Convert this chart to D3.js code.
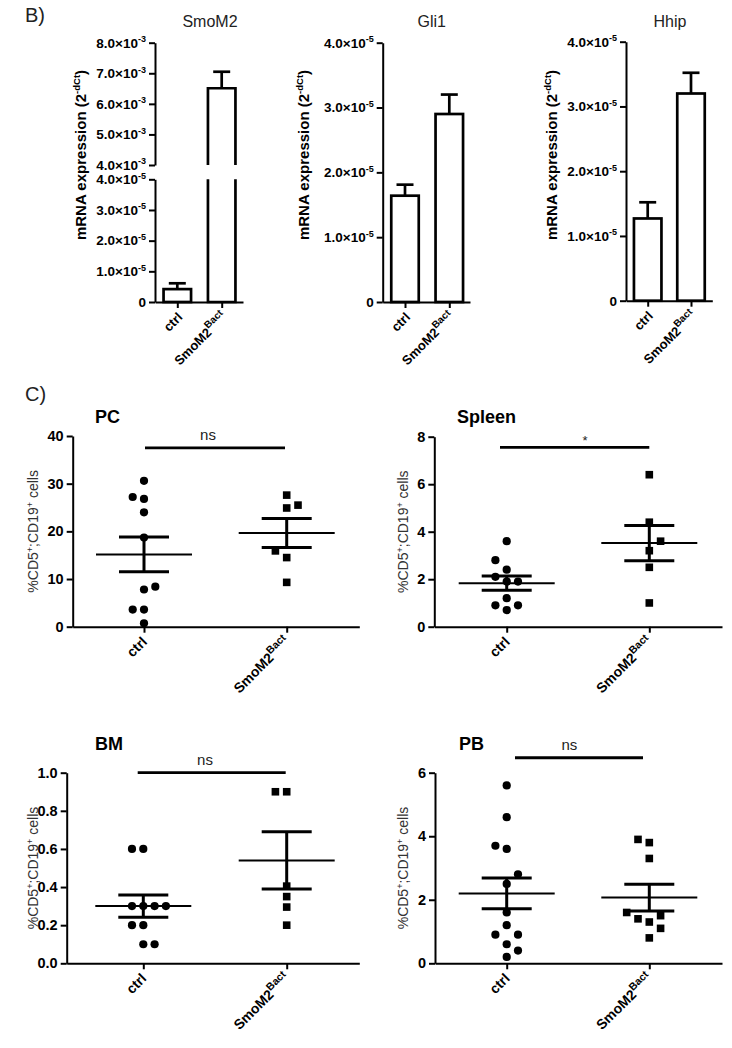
<!DOCTYPE html>
<html><head><meta charset="utf-8">
<script src="https://cdn.jsdelivr.net/npm/d3@7"></script>
<style>body{margin:0;background:#fff} svg{display:block}</style>
</head><body><svg id="c" width="732" height="1048"></svg>
<script>
// ================= DATA =================
const groups = ["ctrl", "SmoM2Bact"];
const genes = ["SmoM2", "Gli1", "Hhip"];
const smoM2Mean = [0.42e-5, 6.51e-3];
const smoM2Err  = [0.19e-5, 0.54e-3];
const gli1Mean  = [1.64e-5, 2.90e-5];
const gli1Err   = [0.17e-5, 0.30e-5];
const hhipMean  = [1.27e-5, 3.20e-5];
const hhipErr   = [0.25e-5, 0.32e-5];
const barTicksLow  = [0, 1e-5, 2e-5, 3e-5, 4e-5];
const barTicksHigh = [4e-3, 5e-3, 6e-3, 7e-3, 8e-3];

const tissues = ["PC", "Spleen", "BM", "PB"];
const pcCtrl     = [0.7, 3.6, 3.6, 7.8, 8.4, 18.7, 24.0, 26.8, 27.2, 30.6];
const pcSmo      = [9.3, 14.5, 15.9, 24.9, 25.5, 27.6];
const spleenCtrl = [0.7, 0.9, 0.9, 1.2, 1.9, 2.1, 1.9, 2.4, 2.8, 3.6];
const spleenSmo  = [1.0, 2.5, 3.2, 3.6, 4.4, 6.4];
const bmCtrl     = [0.1, 0.1, 0.2, 0.2, 0.3, 0.3, 0.3, 0.3, 0.6, 0.6];
const bmSmo      = [0.2, 0.295, 0.35, 0.405, 0.9, 0.9];
const pbCtrl     = [0.2, 0.4, 0.6, 0.9, 0.9, 1.2, 1.6, 3.6, 3.7, 2.5, 2.8, 4.6, 5.6];
const pbSmo      = [3.8, 3.9, 0.8, 1.1, 1.3, 1.4, 1.5, 1.6, 3.3];
const pcMean = [15.15, 19.65],   pcSem = [3.65, 3.05];
const spleenMean = [1.83, 3.52], spleenSem = [0.30, 0.74];
const bmMean = [0.30, 0.54],     bmSem = [0.058, 0.15];
const pbMean = [2.20, 2.07],     pbSem = [0.485, 0.42];
const pcTicks = [0, 10, 20, 30, 40];
const spleenTicks = [0, 2, 4, 6, 8];
const bmTicks = [0, 0.2, 0.4, 0.6, 0.8, 1.0];
const pbTicks = [0, 2, 4, 6];
const sigLabels = ["ns", "*", "ns", "ns"];
const sigLevels = [37.5, 7.55, 1.0, 6.47];

// ================= LAYOUT =================
const FONT = 'Arial, "Liberation Sans", Helvetica, sans-serif';
const svg = d3.select("#c").attr("font-family", FONT);
svg.append("rect").attr("width", 732).attr("height", 1048).attr("fill", "#fff");

function pointScale(domain, x0, x1, c1, c2) {
  const step = c2 - c1;
  const p = ((x1 - x0) / step - 1) / 2;
  const a = (c1 - x0) / ((x1 - x0) - step);
  return d3.scalePoint().domain(domain).range([x0, x1]).padding(p).align(a);
}
function styleAxis(g, fs) {
  g.attr("font-size", fs).attr("font-weight", "bold").attr("font-family", FONT);
  g.selectAll("path,line").attr("stroke", "#000").attr("stroke-width", 2);
  g.selectAll("text").attr("fill", "#000");
}
function sciLabel(sel, d) {
  sel.text(null);
  if (d === 0) { sel.text("0"); return; }
  const e = Math.floor(Math.log10(d) + 1e-9);
  const m = d / Math.pow(10, e);
  sel.append("tspan").text(m.toFixed(1) + "\u00d710");
  sel.append("tspan").attr("dy", -5.5).attr("font-size", 9).text(String(e));
}
function xLabels(g, xs, yAxis, fs, dx, dy, supFs) {
  groups.forEach(gr => {
    const t = g.append("text")
      .attr("transform", `translate(${xs(gr) + dx},${yAxis + dy}) rotate(-45)`)
      .attr("text-anchor", "end").attr("font-size", fs).attr("font-weight", "bold").attr("fill", "#000");
    if (gr === "ctrl") t.text("ctrl");
    else {
      t.append("tspan").text("SmoM2");
      t.append("tspan").attr("dy", -6).attr("font-size", supFs).text("Bact");
    }
  });
}

svg.append("text").attr("x", 25).attr("y", 22).attr("font-size", 20).attr("fill", "#222").text("B)");
svg.append("text").attr("x", 25).attr("y", 401).attr("font-size", 20).attr("fill", "#222").text("C)");

// ---------- Panel B: bar charts ----------
const barLayout = [
  {x0: 155, x1: 243, c1: 177.3, c2: 221.7, yb: 302, yt: 42.7, lowTop: 179.3, highBottom: 165, titleX: 210, labelX: 86, broken: true},
  {x0: 382.7, x1: 470, c1: 405, c2: 449.3, yb: 302, yt: 42.7, titleX: 431.7, labelX: 309},
  {x0: 626, x1: 712.3, c1: 647.7, c2: 691, yb: 300.7, yt: 41.7, titleX: 670, labelX: 556.7}
];
const barMeans = [smoM2Mean, gli1Mean, hhipMean];
const barErrs = [smoM2Err, gli1Err, hhipErr];
const BW = 27.5, BSW = 2.7, CAP = 8.5;

genes.forEach((gene, i) => {
  const L = barLayout[i];
  const g = svg.append("g");
  const xs = pointScale(groups, L.x0, L.x1, L.c1, L.c2);
  let yv, low, high;
  if (L.broken) {
    low = d3.scaleLinear().domain([0, 4e-5]).range([L.yb, L.lowTop]);
    high = d3.scaleLinear().domain([4e-3, 8e-3]).range([L.highBottom, L.yt]);
    yv = v => v <= 4e-5 ? low(v) : high(v);
    [[low, barTicksLow], [high, barTicksHigh]].forEach(([sc, tk]) => {
      const ax = g.append("g").attr("transform", `translate(${L.x0},0)`)
        .call(d3.axisLeft(sc).tickValues(tk).tickSize(6).tickSizeOuter(0).tickPadding(3));
      styleAxis(ax, 13.5);
      ax.selectAll(".tick text").each(function(d) { sciLabel(d3.select(this), d); });
    });
  } else {
    low = d3.scaleLinear().domain([0, 4e-5]).range([L.yb, L.yt]);
    yv = low;
    const ax = g.append("g").attr("transform", `translate(${L.x0},0)`)
      .call(d3.axisLeft(low).tickValues(barTicksLow).tickSize(6).tickSizeOuter(0).tickPadding(3));
    styleAxis(ax, 13.5);
    ax.selectAll(".tick text").each(function(d) { sciLabel(d3.select(this), d); });
  }
  const xa = g.append("g").attr("transform", `translate(0,${L.yb})`)
    .call(d3.axisBottom(xs).tickSize(6).tickSizeOuter(0).tickFormat(() => ""));
  styleAxis(xa, 13);

  const means = barMeans[i], errs = barErrs[i];
  groups.forEach((gr, j) => {
    const cx = xs(gr), v = means[j], e = errs[j];
    const left = cx - BW / 2, right = cx + BW / 2;
    g.append("line").attr("x1", cx).attr("x2", cx).attr("y1", yv(v)).attr("y2", yv(v + e))
      .attr("stroke", "#000").attr("stroke-width", BSW);
    g.append("line").attr("x1", cx - CAP).attr("x2", cx + CAP).attr("y1", yv(v + e)).attr("y2", yv(v + e))
      .attr("stroke", "#000").attr("stroke-width", BSW);
    if (L.broken && v > 4e-5) {
      g.append("path").attr("d", `M${left},${L.lowTop}V${L.yb}H${right}V${L.lowTop}`)
        .attr("fill", "#fff").attr("stroke", "#000").attr("stroke-width", BSW);
      g.append("path").attr("d", `M${left},${L.highBottom}V${yv(v)}H${right}V${L.highBottom}`)
        .attr("fill", "#fff").attr("stroke", "#000").attr("stroke-width", BSW);
    } else {
      g.append("rect").attr("x", left).attr("width", BW).attr("y", yv(v)).attr("height", L.yb - yv(v))
        .attr("fill", "#fff").attr("stroke", "#000").attr("stroke-width", BSW);
    }
  });
  g.append("text").attr("x", L.titleX).attr("y", 27).attr("text-anchor", "middle")
    .attr("font-size", 16).attr("fill", "#222").text(gene);
  const yl = g.append("text").attr("transform", `translate(${L.labelX},155) rotate(-90)`)
    .attr("text-anchor", "middle").attr("font-size", 15).attr("font-weight", "bold").attr("fill", "#000");
  yl.append("tspan").text("mRNA expression (2");
  yl.append("tspan").attr("dy", -6).attr("font-size", 9.5).text("-dCt");
  yl.append("tspan").attr("dy", 6).text(")");
  xLabels(g, xs, L.yb, 13, 6, 16, 10);
});

// ---------- Panel C: dot plots ----------
const scLayout = [
  {x0: 72.7, x1: 359.3, c1: 144, c2: 286.7, y0: 626.7, y1: 436, titleX: 95, titleY: 423, labelX: 38, sx1: 145, sx2: 285, sTextX: 208, start: [-1, -1]},
  {x0: 434.3, x1: 722, c1: 506.7, c2: 649.3, y0: 626.7, y1: 436.7, titleX: 457, titleY: 423, labelX: 408, sx1: 500, sx2: 649.3, sTextX: 585, start: [-1, 1]},
  {x0: 66.7, x1: 359.3, c1: 143.3, c2: 286.7, y0: 963.3, y1: 772.7, titleX: 95, titleY: 750, labelX: 38, sx1: 137.7, sx2: 285.7, sTextX: 205, start: [1, -1]},
  {x0: 435, x1: 722, c1: 506.7, c2: 649.3, y0: 963.3, y1: 772.7, titleX: 459, titleY: 750, labelX: 408, sx1: 515, sx2: 643, sTextX: 569.3, start: [1, -1]}
];
const scValues = [[pcCtrl, pcSmo], [spleenCtrl, spleenSmo], [bmCtrl, bmSmo], [pbCtrl, pbSmo]];
const scMeans = [pcMean, spleenMean, bmMean, pbMean];
const scSems = [pcSem, spleenSem, bmSem, pbSem];
const scTicks = [pcTicks, spleenTicks, bmTicks, pbTicks];
const scFormats = ["d", "d", ".1f", "d"];

function swarm(values, y, start) {
  const placed = [];
  let side = start;
  const D = 10, STEP = 11.3;
  return values.map(v => {
    const py = y(v);
    const cands = [0, side, -side, 2 * side, -2 * side, 3 * side, -3 * side];
    let off = 0;
    for (const c of cands) {
      if (!placed.some(p => Math.hypot((p.off - c) * STEP, p.y - py) < D)) { off = c; break; }
    }
    if (off !== 0) side = off > 0 ? -1 : 1;
    const pt = {v, y: py, off, dx: off * STEP};
    placed.push(pt);
    return pt;
  });
}

tissues.forEach((tis, i) => {
  const L = scLayout[i];
  const g = svg.append("g");
  const xs = pointScale(groups, L.x0, L.x1, L.c1, L.c2);
  const tk = scTicks[i];
  const ys = d3.scaleLinear().domain([0, tk[tk.length - 1]]).range([L.y0, L.y1]);
  const ya = g.append("g").attr("transform", `translate(${L.x0},0)`)
    .call(d3.axisLeft(ys).tickValues(tk).tickSize(6).tickSizeOuter(0).tickPadding(3).tickFormat(d3.format(scFormats[i])));
  styleAxis(ya, 14.5);
  const xa = g.append("g").attr("transform", `translate(0,${L.y0})`)
    .call(d3.axisBottom(xs).tickSize(6).tickSizeOuter(0).tickFormat(() => ""));
  styleAxis(xa, 14);

  groups.forEach((gr, j) => {
    const pts = swarm(scValues[i][j], ys, L.start[j]);
    const cx = xs(gr);
    if (j === 0) {
      g.selectAll(null).data(pts).enter().append("circle")
        .attr("cx", d => cx + d.dx).attr("cy", d => d.y).attr("r", 4.1).attr("fill", "#000");
    } else {
      g.selectAll(null).data(pts).enter().append("rect")
        .attr("x", d => cx + d.dx - 3.8).attr("y", d => d.y - 3.8)
        .attr("width", 7.6).attr("height", 7.6).attr("fill", "#000");
    }
    const m = scMeans[i][j], s = scSems[i][j];
    g.append("line").attr("x1", cx - 48).attr("x2", cx + 48).attr("y1", ys(m)).attr("y2", ys(m))
      .attr("stroke", "#000").attr("stroke-width", 2);
    g.append("line").attr("x1", cx).attr("x2", cx).attr("y1", ys(m - s)).attr("y2", ys(m + s))
      .attr("stroke", "#000").attr("stroke-width", 3);
    [m - s, m + s].forEach(v => g.append("line").attr("x1", cx - 25).attr("x2", cx + 25)
      .attr("y1", ys(v)).attr("y2", ys(v)).attr("stroke", "#000").attr("stroke-width", 3));
  });

  const sy = ys(sigLevels[i]);
  g.append("line").attr("x1", L.sx1).attr("x2", L.sx2).attr("y1", sy).attr("y2", sy)
    .attr("stroke", "#000").attr("stroke-width", 2.8);
  const lab = sigLabels[i];
  g.append("text").attr("x", L.sTextX).attr("y", lab === "*" ? sy - 2 : sy - 8)
    .attr("text-anchor", "middle").attr("font-size", lab === "*" ? 13 : 15).attr("fill", "#222").text(lab);

  g.append("text").attr("x", L.titleX).attr("y", L.titleY).attr("font-size", 18)
    .attr("font-weight", "bold").attr("fill", "#000").text(tis);

  const yl = g.append("text").attr("transform", `translate(${L.labelX},${(L.y0 + L.y1) / 2}) rotate(-90)`)
    .attr("text-anchor", "middle").attr("font-size", 14).attr("fill", "#333");
  yl.append("tspan").text("%CD5");
  yl.append("tspan").attr("dy", -5).attr("font-size", 9).text("+");
  yl.append("tspan").attr("dy", 5).text(";CD19");
  yl.append("tspan").attr("dy", -5).attr("font-size", 9).text("+");
  yl.append("tspan").attr("dy", 5).text(" cells");

  xLabels(g, xs, L.y0, 14, 4, 16, 10.5);
});
</script></body></html>
